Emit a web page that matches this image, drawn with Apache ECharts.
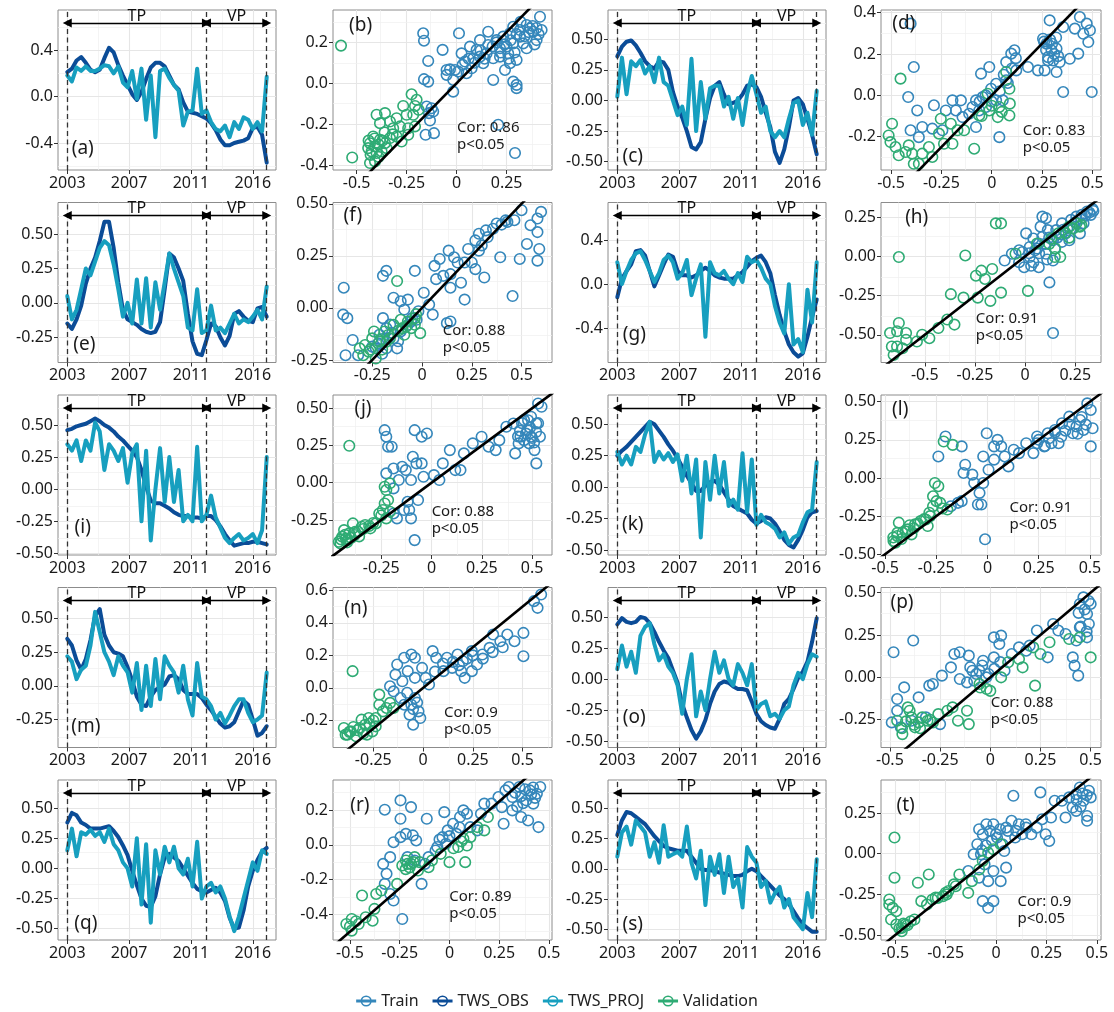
<!DOCTYPE html>
<html>
<head>
<meta charset="utf-8">
<script src="https://cdn.jsdelivr.net/npm/echarts@6/dist/echarts.min.js"></script>
<style>
html,body{margin:0;padding:0;background:#fff;}
#chart{width:1114px;height:1012px;}
</style>
</head>
<body>
<div id="chart"></div>
<script>
// ---------- time axis (month index) ----------
const monthIndex = [0,3,6,9,12,15,18,21,24,27,30,33,36,39,42,45,48,51,54,57,60,63,66,69,72,75,78,81,84,87,90,93,96,99,102,105,108,111,114,117,120,123,126,129];
const yearTickAt = [0,40,80,120];
const yearTickLabel = ['2003','2007','2011','2016'];
const periodBreaks = [0,90,129];   // start of TP, TP/VP split, end of VP

// ---------- TWS series ----------
const obsA = [0.21,0.24,0.31,0.34,0.29,0.23,0.21,0.23,0.33,0.42,0.38,0.27,0.18,0.10,0.02,-0.03,0.04,0.15,0.25,0.29,0.29,0.26,0.18,0.10,0.06,-0.05,-0.13,-0.14,-0.15,-0.17,-0.19,-0.23,-0.29,-0.37,-0.42,-0.42,-0.40,-0.39,-0.38,-0.36,-0.27,-0.26,-0.33,-0.57];
const projA = [0.18,0.13,0.25,0.22,0.26,0.22,0.22,0.24,0.27,0.26,0.20,0.26,0.12,0.08,0.22,-0.02,0.24,-0.20,0.18,-0.35,0.22,0.24,0.16,0.10,0.05,-0.25,-0.13,-0.12,0.24,-0.15,-0.12,-0.22,-0.28,-0.30,-0.25,-0.35,-0.22,-0.28,-0.18,-0.20,-0.28,-0.22,-0.30,0.17];
const obsC = [0.36,0.44,0.48,0.49,0.45,0.39,0.32,0.28,0.26,0.32,0.31,0.25,0.07,-0.05,-0.14,-0.25,-0.38,-0.40,-0.34,-0.15,0.02,0.12,0.15,0.05,-0.03,-0.02,0.00,0.05,0.12,0.13,0.11,0.03,-0.10,-0.22,-0.42,-0.51,-0.40,-0.22,0.00,0.02,-0.03,-0.15,-0.28,-0.44];
const projC = [0.03,0.35,0.05,0.32,0.28,0.33,0.22,0.28,0.15,0.35,0.15,0.12,0.00,-0.12,-0.05,-0.20,0.34,-0.25,0.15,-0.15,0.10,0.12,0.12,-0.05,0.03,-0.15,0.02,-0.20,0.05,0.20,0.05,-0.10,-0.05,-0.25,-0.30,-0.25,-0.30,-0.15,-0.02,0.00,-0.20,-0.10,-0.28,0.08];
const obsE = [-0.15,-0.19,-0.12,-0.02,0.14,0.25,0.33,0.45,0.59,0.59,0.40,0.15,-0.05,-0.12,-0.14,-0.16,-0.19,-0.21,-0.22,-0.21,-0.14,0.10,0.36,0.33,0.25,0.16,-0.08,-0.28,-0.37,-0.38,-0.27,-0.15,-0.17,-0.25,-0.31,-0.24,-0.08,-0.06,-0.10,-0.13,-0.14,-0.04,-0.03,-0.10];
const projE = [0.05,-0.12,-0.05,0.10,0.25,0.20,0.30,0.40,0.45,0.42,0.28,0.10,-0.10,0.00,-0.15,0.17,-0.15,0.18,-0.18,0.15,-0.05,0.15,0.36,0.25,0.15,0.05,-0.18,-0.20,0.10,-0.22,-0.20,-0.02,-0.20,-0.18,-0.22,-0.15,-0.08,-0.15,-0.12,-0.14,-0.10,-0.05,-0.12,0.12];
const obsG = [-0.12,0.05,0.12,0.18,0.30,0.31,0.26,0.12,-0.02,0.08,0.18,0.27,0.25,0.12,0.08,0.08,0.06,0.08,0.12,0.15,0.12,0.08,0.06,0.05,0.05,0.05,0.08,0.11,0.16,0.21,0.24,0.26,0.20,0.10,-0.10,-0.28,-0.43,-0.55,-0.62,-0.66,-0.63,-0.48,-0.30,-0.14];
const projG = [0.20,0.00,0.12,0.22,0.28,0.30,0.22,0.12,0.02,0.10,0.22,0.26,0.20,0.05,0.10,0.22,-0.10,0.05,0.18,-0.48,0.20,0.10,0.08,0.12,0.05,0.00,0.10,0.02,0.25,0.20,0.22,0.15,0.05,0.00,-0.20,-0.35,-0.45,0.00,-0.55,-0.50,-0.62,-0.05,-0.35,0.20];
const obsI = [0.46,0.47,0.49,0.50,0.51,0.53,0.55,0.53,0.50,0.48,0.45,0.41,0.38,0.34,0.30,0.25,0.15,0.02,-0.09,-0.11,-0.11,-0.13,-0.15,-0.18,-0.20,-0.21,-0.21,-0.22,-0.22,-0.23,-0.21,-0.21,-0.24,-0.29,-0.35,-0.40,-0.44,-0.43,-0.42,-0.42,-0.41,-0.41,-0.42,-0.43];
const projI = [0.35,0.30,0.38,0.22,0.38,0.30,0.52,0.45,0.15,0.35,0.30,0.22,0.32,0.05,0.28,0.35,-0.25,0.30,-0.40,0.00,0.32,-0.10,0.25,-0.10,0.15,-0.25,-0.20,-0.25,0.33,-0.25,-0.20,-0.05,-0.22,-0.30,-0.38,-0.42,-0.38,-0.35,-0.40,-0.38,-0.35,-0.42,-0.32,0.25];
const obsK = [0.25,0.29,0.32,0.36,0.40,0.44,0.48,0.52,0.50,0.45,0.40,0.34,0.29,0.23,0.16,0.09,0.03,-0.03,-0.03,0.01,0.04,0.05,0.02,-0.04,-0.10,-0.15,-0.17,-0.19,-0.21,-0.26,-0.29,-0.27,-0.24,-0.25,-0.29,-0.35,-0.42,-0.46,-0.48,-0.42,-0.34,-0.24,-0.20,-0.19];
const projK = [0.28,0.18,0.25,0.18,0.32,0.28,0.42,0.52,0.20,0.28,0.22,0.27,0.20,0.26,0.05,0.25,-0.05,0.22,-0.40,0.20,-0.10,0.25,-0.05,0.20,-0.15,-0.10,-0.18,0.27,-0.20,0.22,-0.30,-0.22,-0.28,-0.30,-0.33,-0.40,-0.36,-0.45,-0.40,-0.38,-0.28,-0.20,-0.18,0.20];
const obsM = [0.35,0.30,0.19,0.12,0.20,0.34,0.52,0.57,0.38,0.30,0.25,0.24,0.22,0.14,0.04,-0.08,-0.14,-0.15,-0.08,-0.03,-0.01,0.01,0.07,0.08,0.05,-0.03,-0.06,-0.06,-0.06,-0.09,-0.14,-0.18,-0.23,-0.28,-0.31,-0.30,-0.27,-0.19,-0.11,-0.14,-0.25,-0.37,-0.35,-0.30];
const projM = [0.22,0.18,0.05,0.12,0.15,0.30,0.55,0.40,0.25,0.18,0.08,0.22,0.15,0.10,-0.05,0.17,-0.18,0.15,-0.15,0.20,-0.10,0.22,0.15,0.10,-0.05,0.15,-0.10,-0.22,0.17,-0.08,-0.10,-0.15,-0.25,-0.20,-0.28,-0.22,-0.15,-0.10,-0.10,-0.20,-0.27,-0.25,-0.22,0.10];
const obsO = [0.44,0.49,0.46,0.45,0.46,0.50,0.49,0.45,0.38,0.30,0.23,0.17,0.07,-0.03,-0.20,-0.31,-0.41,-0.48,-0.42,-0.33,-0.20,-0.10,-0.04,-0.02,-0.03,-0.06,-0.08,-0.08,-0.09,-0.18,-0.28,-0.34,-0.37,-0.39,-0.40,-0.32,-0.20,-0.16,-0.08,0.01,0.06,0.14,0.30,0.49];
const projO = [0.08,0.27,0.10,0.22,0.05,0.35,0.42,0.45,0.28,0.15,0.20,0.10,0.05,-0.05,-0.28,0.00,0.20,-0.30,-0.10,-0.25,0.00,0.22,0.05,0.15,0.00,-0.05,0.12,0.05,-0.05,0.12,-0.25,-0.20,-0.18,-0.30,-0.28,-0.32,-0.25,-0.22,-0.05,0.05,0.00,0.12,0.20,0.18];
const obsQ = [0.38,0.46,0.44,0.38,0.36,0.33,0.33,0.33,0.34,0.35,0.31,0.26,0.19,0.11,-0.02,-0.14,-0.25,-0.31,-0.32,-0.23,-0.05,0.09,0.12,0.09,0.06,0.00,-0.06,-0.12,-0.17,-0.19,-0.20,-0.18,-0.16,-0.20,-0.27,-0.41,-0.50,-0.49,-0.35,-0.15,-0.02,0.07,0.14,0.17];
const projQ = [0.15,0.33,0.10,0.30,0.28,0.32,0.27,0.30,0.22,0.33,0.20,0.15,0.05,0.00,-0.15,0.25,-0.30,0.20,-0.45,0.15,-0.05,0.18,0.05,0.18,0.00,-0.05,0.08,-0.15,0.22,-0.25,-0.15,-0.12,-0.20,-0.15,-0.25,-0.40,-0.52,-0.40,-0.25,-0.10,0.05,-0.02,0.15,0.12];
const obsS = [0.28,0.40,0.47,0.46,0.43,0.40,0.37,0.32,0.27,0.23,0.19,0.17,0.16,0.15,0.15,0.15,0.10,0.05,0.00,-0.01,-0.01,-0.02,-0.03,-0.04,-0.05,-0.06,-0.06,-0.05,-0.02,0.00,-0.02,-0.06,-0.10,-0.14,-0.18,-0.22,-0.25,-0.29,-0.35,-0.41,-0.46,-0.49,-0.52,-0.52];
const projS = [0.10,0.30,0.35,0.20,0.40,0.35,0.30,0.10,0.22,0.05,0.36,0.10,0.12,0.14,0.10,0.35,0.05,-0.08,0.15,-0.30,0.10,-0.05,0.12,-0.20,0.10,-0.15,-0.08,-0.32,0.18,0.10,0.05,-0.15,-0.10,-0.28,-0.20,-0.15,-0.32,-0.25,-0.40,-0.45,-0.50,-0.20,-0.40,0.08];

// ---------- scatter points [x, y] ----------
const trainB = [[-0.167,0.244],[-0.163,0.208],[-0.142,0.109],[-0.163,0.02],[-0.142,0.008],[-0.15,-0.114],[-0.125,-0.122],[-0.138,-0.146],[-0.117,-0.138],[-0.133,-0.182],[-0.155,-0.252],[-0.113,-0.244],[-0.07,0.163],[-0.033,0.068],[-0.008,0.065],[-0.017,0.016],[-0.017,-0.041],[0.012,0.244],[0.025,0.146],[0.042,0.106],[0.067,0.179],[0.1,0.163],[0.117,0.13],[0.075,0.073],[0.158,0.252],[0.158,0.187],[0.183,0.122],[0.217,0.171],[0.233,0.228],[0.267,0.244],[0.283,0.195],[0.283,0.276],[0.317,0.26],[0.35,0.285],[0.383,0.252],[0.417,0.325],[0.425,0.26],[0.4,0.211],[0.35,0.171],[0.3,0.114],[0.242,0.065],[0.183,0.016],[0.267,0.098],[0.283,0.008],[0.3,-0.024],[0.292,-0.341],[0.208,-0.203],[0.3,-0.008],[0.117,0.211],[0.15,0.146],[0.2,0.211],[0.25,0.179],[0.317,0.228],[0.367,0.268],[0.333,0.195],[0.05,0.049],[0.008,0.057],[-0.05,0.065],[-0.05,0.041],[0.083,0.122],[0.133,0.098],[0.217,0.13],[0.258,0.146],[0.2,0.2],[0.22,0.15],[0.27,0.21],[0.3,0.24],[0.32,0.3],[0.34,0.23],[0.36,0.25],[0.38,0.28],[0.4,0.27],[0.41,0.24],[0.39,0.19],[0.12,0.16],[0.14,0.12],[0.18,0.18],[0.24,0.19],[0.26,0.12],[0.29,0.15],[0.03,0.09],[0.06,0.12],[0.09,0.1]];
const validB = [[-0.578,0.184],[-0.522,-0.363],[-0.225,-0.054],[-0.2,-0.081],[-0.4,-0.154],[-0.358,-0.146],[-0.3,-0.171],[-0.267,-0.111],[-0.25,-0.154],[-0.217,-0.154],[-0.208,-0.111],[-0.19,-0.13],[-0.383,-0.195],[-0.333,-0.187],[-0.283,-0.211],[-0.242,-0.22],[-0.208,-0.211],[-0.417,-0.26],[-0.433,-0.293],[-0.408,-0.309],[-0.383,-0.276],[-0.358,-0.293],[-0.333,-0.268],[-0.3,-0.26],[-0.275,-0.285],[-0.4,-0.341],[-0.375,-0.333],[-0.35,-0.317],[-0.433,-0.39],[-0.408,-0.382],[-0.317,-0.22],[-0.242,-0.252],[-0.425,-0.333],[-0.442,-0.317],[-0.43,-0.35],[-0.39,-0.3],[-0.37,-0.28],[-0.41,-0.27],[-0.36,-0.24],[-0.32,-0.25],[-0.39,-0.36],[-0.44,-0.28]];
const trainD = [[-0.403,0.347],[-0.387,0.137],[-0.415,-0.008],[-0.37,-0.073],[-0.403,-0.169],[-0.345,-0.153],[-0.362,-0.202],[-0.287,-0.048],[-0.295,-0.161],[-0.245,-0.169],[-0.228,-0.073],[-0.195,-0.024],[-0.178,-0.073],[-0.153,-0.024],[-0.145,-0.105],[-0.112,-0.089],[-0.078,-0.024],[-0.078,-0.153],[-0.053,0.105],[-0.045,-0.008],[-0.028,-0.056],[-0.012,0.137],[-0.003,0.032],[0.022,0.056],[0.038,-0.202],[0.055,-0.024],[0.072,0.161],[0.097,0.202],[0.113,0.218],[0.122,0.121],[0.18,0.137],[0.23,0.121],[0.263,0.121],[0.255,0.274],[0.272,0.25],[0.288,0.363],[0.297,0.218],[0.305,0.169],[0.322,0.226],[0.338,0.161],[0.355,0.016],[0.355,0.331],[0.388,0.177],[0.413,0.323],[0.43,0.202],[0.438,0.379],[0.472,0.347],[0.488,0.315],[0.497,0.016],[0.48,0.258],[0.455,0.298],[0.28,0.185],[0.322,0.113],[-0.062,-0.073],[0.022,-0.024],[-0.095,-0.056],[0.072,0.073],[0.27,0.22],[0.29,0.27],[0.31,0.2],[0.3,0.25],[0.33,0.19],[0.28,0.17],[0.26,0.26],[0.32,0.28],[-0.03,0.0],[0.0,-0.03],[0.04,0.02],[0.08,0.06],[-0.06,-0.03],[0.1,0.13],[0.12,0.18],[0.06,0.1]];
const validD = [[-0.453,0.081],[-0.495,-0.137],[-0.512,-0.194],[-0.503,-0.226],[-0.478,-0.25],[-0.462,-0.29],[-0.412,-0.242],[-0.395,-0.282],[-0.387,-0.331],[-0.362,-0.331],[-0.345,-0.282],[-0.312,-0.25],[-0.295,-0.298],[-0.262,-0.185],[-0.253,-0.113],[-0.237,-0.234],[-0.203,-0.137],[-0.195,-0.234],[-0.17,-0.169],[-0.137,-0.169],[-0.087,-0.258],[-0.062,-0.097],[-0.012,-0.073],[0.03,-0.105],[0.038,-0.056],[0.088,-0.097],[0.088,0.032],[0.072,0.113],[-0.02,0.008],[-0.428,-0.274],[0.0,-0.05],[0.05,-0.08],[-0.05,-0.1],[0.09,-0.04]];
const trainF = [[-0.393,0.097],[-0.396,-0.032],[-0.375,-0.049],[-0.384,-0.227],[-0.348,-0.154],[-0.196,0.154],[-0.179,0.178],[-0.036,0.178],[-0.143,0.049],[-0.107,0.032],[-0.071,0.04],[0.009,0.073],[0.036,0.016],[-0.196,-0.049],[-0.179,-0.097],[-0.214,-0.129],[-0.232,-0.194],[-0.179,-0.194],[-0.143,-0.146],[-0.107,-0.113],[-0.071,-0.081],[-0.027,-0.057],[-0.089,-0.008],[0.125,-0.073],[0.143,-0.065],[0.054,-0.032],[0.063,0.202],[0.071,0.138],[0.089,0.235],[0.134,0.275],[0.143,0.097],[0.161,0.243],[0.179,0.218],[0.143,0.162],[0.214,0.04],[0.214,0.218],[0.232,0.283],[0.25,0.218],[0.268,0.186],[0.268,0.324],[0.286,0.275],[0.313,0.146],[0.286,0.356],[0.321,0.372],[0.375,0.405],[0.393,0.243],[0.429,0.413],[0.464,0.421],[0.455,0.057],[0.491,0.235],[0.5,0.469],[0.527,0.307],[0.545,0.397],[0.58,0.429],[0.598,0.461],[0.58,0.364],[0.589,0.283],[0.58,0.227],[0.357,0.38],[0.107,0.154],[0.196,0.121],[-0.054,-0.065],[-0.125,-0.194],[-0.25,-0.186],[-0.321,-0.227],[-0.018,-0.016],[-0.2,-0.15],[-0.15,-0.12],[-0.12,-0.16],[-0.22,-0.17],[-0.1,-0.1],[-0.05,-0.05],[-0.16,-0.08],[-0.2,-0.22],[0.3,0.3],[0.33,0.34],[0.4,0.4],[0.42,0.42]];
const validF = [[-0.125,0.129],[-0.313,-0.194],[-0.295,-0.227],[-0.286,-0.178],[-0.268,-0.21],[-0.25,-0.146],[-0.214,-0.162],[-0.188,-0.113],[-0.161,-0.146],[-0.143,-0.081],[-0.107,-0.057],[-0.071,-0.065],[-0.054,-0.097],[-0.036,-0.049],[-0.009,-0.121],[-0.089,-0.129],[-0.179,-0.162],[-0.232,-0.243],[-0.241,-0.113],[-0.098,-0.097],[-0.036,-0.081],[-0.2,-0.2],[-0.17,-0.13],[-0.12,-0.11],[-0.08,-0.09],[-0.03,-0.03],[-0.26,-0.2]];
const trainH = [[0.139,-0.489],[0.121,-0.166],[-0.03,-0.037],[-0.005,-0.069],[0.041,-0.037],[0.068,-0.069],[0.023,-0.004],[-0.013,0.028],[-0.102,-0.026],[0.005,0.147],[0.041,0.114],[0.068,0.082],[0.077,0.19],[0.086,0.254],[0.104,0.244],[0.113,0.168],[0.139,0.103],[0.155,0.168],[0.184,0.211],[0.202,0.147],[0.229,0.233],[0.255,0.254],[0.282,0.265],[0.309,0.287],[0.336,0.302],[0.273,0.147],[0.22,0.103],[0.148,0.05],[0.104,0.017],[0.05,0.039],[-0.03,0.039],[-0.066,0.017],[0.023,0.06],[0.139,-0.026],[0.184,0.093],[0.238,0.179],[0.291,0.211],[0.327,0.265],[0.086,0.125],[0.02,0.02],[0.06,0.05],[0.1,0.08],[0.12,0.12],[0.16,0.12],[0.19,0.17],[0.21,0.18],[0.25,0.22],[0.28,0.24],[0.3,0.26],[0.32,0.28],[0.34,0.29],[0.18,0.14],[0.07,0.02],[0.03,-0.06],[0.11,-0.02]];
const validH = [[-0.629,-0.004],[-0.673,-0.489],[-0.638,-0.478],[-0.593,-0.489],[-0.629,-0.425],[-0.664,-0.575],[-0.638,-0.575],[-0.655,-0.629],[-0.611,-0.586],[-0.593,-0.532],[-0.539,-0.543],[-0.513,-0.5],[-0.477,-0.522],[-0.432,-0.457],[-0.388,-0.403],[-0.352,-0.435],[-0.37,-0.241],[-0.307,-0.263],[-0.298,0.006],[-0.245,-0.123],[-0.218,-0.091],[-0.2,-0.144],[-0.164,-0.08],[-0.236,-0.263],[-0.173,-0.284],[-0.12,-0.231],[-0.146,0.211],[-0.12,0.211],[-0.048,0.017],[0.014,-0.22],[0.13,0.114],[0.148,-0.004],[0.175,-0.004],[0.22,0.19],[0.255,0.211],[0.273,0.19],[0.166,0.147],[0.059,0.082],[0.2,0.15],[0.24,0.18],[0.28,0.2],[0.15,0.05],[0.22,0.12],[0.12,0.08]];
const trainJ = [[-0.233,0.353],[-0.225,0.309],[-0.216,0.242],[-0.198,0.242],[-0.225,0.063],[-0.189,0.096],[-0.163,0.018],[-0.189,-0.038],[-0.189,-0.206],[-0.146,0.107],[-0.128,0.085],[-0.102,0.018],[-0.093,0.174],[-0.075,0.13],[-0.084,0.353],[-0.049,0.309],[-0.023,0.331],[-0.049,0.13],[-0.04,0.04],[-0.119,-0.128],[-0.111,-0.183],[-0.102,-0.239],[-0.084,-0.385],[-0.067,-0.116],[-0.137,-0.183],[-0.172,-0.239],[0.012,0.051],[0.056,0.13],[0.091,0.219],[0.118,0.085],[0.144,0.085],[0.161,0.197],[0.205,0.264],[0.249,0.309],[0.284,0.242],[0.319,0.219],[0.337,0.286],[0.372,0.376],[0.407,0.398],[0.416,0.197],[0.442,0.309],[0.46,0.421],[0.477,0.353],[0.486,0.264],[0.495,0.443],[0.512,0.219],[0.521,0.398],[0.521,0.13],[0.53,0.532],[0.547,0.51],[0.539,0.309],[0.46,0.286],[0.495,0.309],[0.433,0.264],[0.039,0.018],[0.44,0.35],[0.47,0.33],[0.49,0.37],[0.5,0.3],[0.52,0.34],[0.45,0.4],[0.48,0.42],[0.53,0.4],[0.51,0.27],[0.43,0.31]];
const validJ = [[-0.409,0.248],[-0.461,-0.396],[-0.444,-0.362],[-0.435,-0.318],[-0.426,-0.374],[-0.409,-0.34],[-0.391,-0.273],[-0.382,-0.351],[-0.365,-0.329],[-0.347,-0.295],[-0.33,-0.284],[-0.304,-0.306],[-0.277,-0.273],[-0.26,-0.206],[-0.242,-0.183],[-0.233,-0.139],[-0.225,-0.049],[-0.216,-0.116],[-0.233,-0.027],[-0.207,-0.004],[-0.207,-0.195],[-0.453,-0.407],[-0.418,-0.385],[-0.225,-0.239],[-0.45,-0.38],[-0.43,-0.35],[-0.4,-0.37],[-0.38,-0.33],[-0.36,-0.36],[-0.42,-0.4],[-0.34,-0.31],[-0.31,-0.29],[-0.29,-0.27],[-0.25,-0.22]];
const trainL = [[-0.24,0.141],[-0.205,0.272],[-0.126,0.207],[-0.109,0.087],[-0.117,0.033],[-0.074,0.022],[-0.065,-0.033],[-0.039,-0.098],[-0.03,-0.174],[-0.047,-0.174],[-0.012,-0.402],[-0.004,0.293],[-0.021,0.141],[0.005,0.054],[0.032,0.207],[0.049,0.25],[0.067,0.207],[0.084,0.141],[0.102,0.076],[0.128,0.185],[0.154,0.163],[0.189,0.228],[0.224,0.163],[0.242,0.272],[0.277,0.207],[0.294,0.293],[0.329,0.315],[0.347,0.228],[0.364,0.359],[0.399,0.402],[0.417,0.293],[0.434,0.337],[0.452,0.38],[0.469,0.315],[0.487,0.489],[0.504,0.207],[0.513,0.326],[0.504,0.446],[-0.144,-0.163],[-0.126,-0.152],[-0.179,-0.185],[0.032,0.12],[0.242,0.228],[0.312,0.228],[-0.021,-0.033],[0.25,0.25],[0.3,0.26],[0.33,0.3],[0.38,0.31],[0.4,0.35],[0.44,0.29],[0.46,0.4],[0.48,0.35],[0.36,0.27],[0.28,0.21]];
const validL = [[-0.433,-0.293],[-0.459,-0.413],[-0.441,-0.38],[-0.415,-0.359],[-0.389,-0.337],[-0.371,-0.37],[-0.354,-0.304],[-0.327,-0.283],[-0.301,-0.272],[-0.284,-0.228],[-0.266,-0.185],[-0.249,-0.152],[-0.257,-0.033],[-0.24,-0.054],[-0.231,-0.163],[-0.214,0.239],[-0.17,0.217],[-0.266,-0.12],[-0.292,-0.315],[-0.45,-0.424],[-0.196,-0.207],[-0.46,-0.39],[-0.44,-0.36],[-0.42,-0.4],[-0.4,-0.35],[-0.38,-0.31],[-0.36,-0.33],[-0.34,-0.3],[-0.31,-0.27],[-0.28,-0.25],[-0.22,-0.2]];
const trainN = [[-0.166,0.01],[-0.148,-0.021],[-0.139,0.082],[-0.13,0.144],[-0.095,0.185],[-0.059,0.205],[-0.041,0.185],[-0.104,0.041],[-0.077,0.103],[-0.041,0.062],[-0.113,-0.062],[-0.059,-0.103],[-0.041,-0.062],[-0.023,-0.144],[-0.068,-0.164],[-0.05,-0.226],[-0.005,0.123],[0.013,0.062],[0.048,0.226],[0.066,0.185],[0.102,0.103],[0.12,0.185],[0.146,0.123],[0.173,0.205],[0.2,0.164],[0.209,0.062],[0.245,0.226],[0.271,0.144],[0.298,0.205],[0.334,0.246],[0.352,0.328],[0.388,0.287],[0.423,0.328],[0.459,0.287],[0.504,0.195],[0.504,0.338],[0.557,0.533],[0.575,0.492],[0.593,0.574],[0.245,0.103],[0.191,0.103],[0.03,0.021],[-0.095,-0.103],[-0.014,-0.185],[0.1,0.15],[0.15,0.16],[0.18,0.14],[0.22,0.18],[0.25,0.2],[0.3,0.18],[0.35,0.22],[0.4,0.25],[0.06,0.1],[-0.08,-0.03],[-0.05,-0.13],[-0.03,-0.09]];
const validN = [[-0.354,0.103],[-0.398,-0.246],[-0.38,-0.287],[-0.363,-0.267],[-0.336,-0.297],[-0.318,-0.246],[-0.309,-0.195],[-0.291,-0.226],[-0.273,-0.185],[-0.255,-0.267],[-0.238,-0.185],[-0.22,-0.103],[-0.202,-0.144],[-0.184,-0.123],[-0.166,-0.092],[-0.148,-0.123],[-0.22,-0.041],[-0.389,-0.287],[-0.238,-0.236],[-0.282,-0.287],[-0.37,-0.27],[-0.33,-0.26],[-0.3,-0.28],[-0.27,-0.22],[-0.25,-0.2],[-0.35,-0.24]];
const trainP = [[-0.482,0.148],[-0.384,0.217],[-0.429,-0.059],[-0.464,-0.128],[-0.464,-0.197],[-0.491,-0.266],[-0.446,-0.295],[-0.357,-0.118],[-0.304,-0.049],[-0.241,0.01],[-0.196,0.059],[-0.152,0.148],[-0.107,0.128],[-0.089,0.039],[-0.152,-0.01],[-0.08,-0.02],[-0.054,0.039],[-0.036,0.098],[-0.009,0.02],[0.018,0.236],[0.045,0.197],[0.054,0.246],[0.071,0.039],[0.107,0.138],[0.143,0.177],[0.179,0.157],[0.196,0.187],[0.232,0.276],[0.286,0.118],[0.313,0.315],[0.339,0.276],[0.375,0.256],[0.411,0.118],[0.42,0.069],[0.438,0.01],[0.446,0.433],[0.464,0.472],[0.482,0.374],[0.5,0.433],[0.491,0.315],[0.446,0.295],[0.429,0.217],[0.482,0.236],[-0.116,-0.03],[-0.179,0.138],[-0.286,-0.039],[-0.321,-0.236],[-0.25,-0.276],[-0.393,-0.256],[0.018,0.118],[-0.07,0.02],[-0.04,0.07],[-0.02,0.0],[0.02,0.05],[0.05,0.09],[-0.1,0.06],[0.44,0.38],[0.47,0.4],[0.49,0.45],[0.45,0.3],[0.48,0.27]];
const validP = [[-0.464,-0.256],[-0.438,-0.335],[-0.411,-0.177],[-0.393,-0.236],[-0.375,-0.295],[-0.357,-0.266],[-0.339,-0.236],[-0.313,-0.256],[-0.286,-0.266],[-0.259,-0.217],[-0.214,-0.197],[-0.188,-0.177],[-0.161,-0.256],[-0.116,-0.197],[-0.107,-0.276],[-0.402,-0.197],[-0.054,-0.039],[-0.018,-0.069],[0.054,0.0],[0.089,0.089],[0.143,0.108],[0.161,0.059],[0.223,-0.049],[0.25,0.138],[0.295,0.207],[0.393,0.226],[0.446,0.236],[0.5,0.118],[0.214,0.177],[-0.44,-0.3],[-0.42,-0.26],[-0.38,-0.28],[-0.35,-0.3],[-0.3,-0.25],[-0.05,-0.06],[0.0,-0.08]];
const trainR = [[-0.246,0.256],[-0.193,0.217],[-0.325,0.202],[-0.246,0.15],[-0.114,0.15],[-0.026,0.188],[-0.281,0.015],[-0.246,0.044],[-0.219,0.063],[-0.184,0.054],[-0.167,0.025],[-0.298,-0.071],[-0.333,-0.11],[-0.316,-0.167],[-0.325,-0.225],[-0.298,-0.283],[-0.281,-0.321],[-0.237,-0.427],[-0.211,-0.071],[-0.175,-0.09],[-0.105,-0.071],[-0.07,-0.033],[-0.035,0.044],[-0.009,0.083],[0.018,0.121],[0.035,0.063],[0.053,0.16],[0.07,0.198],[0.088,0.179],[0.105,0.102],[0.14,0.083],[0.175,0.237],[0.211,0.237],[0.246,0.275],[0.263,0.217],[0.281,0.313],[0.298,0.333],[0.316,0.275],[0.316,0.198],[0.351,0.333],[0.36,0.16],[0.386,0.256],[0.395,0.14],[0.404,0.313],[0.421,0.237],[0.439,0.294],[0.447,0.102],[0.456,0.333],[0.272,0.121],[-0.018,0.006],[-0.061,-0.013],[-0.123,-0.11],[-0.14,-0.225],[0.158,0.179],[0.33,0.3],[0.36,0.28],[0.38,0.32],[0.41,0.29],[0.43,0.27],[0.37,0.24],[0.34,0.22],[0.42,0.33],[0.0,0.05],[0.05,0.1],[-0.05,0.03]];
const validR = [[-0.439,-0.292],[-0.491,-0.427],[-0.518,-0.456],[-0.491,-0.494],[-0.456,-0.456],[-0.421,-0.417],[-0.386,-0.437],[-0.377,-0.369],[-0.368,-0.283],[-0.342,-0.263],[-0.263,-0.225],[-0.237,-0.119],[-0.219,-0.09],[-0.193,-0.11],[-0.175,-0.071],[-0.158,-0.148],[-0.105,-0.129],[-0.088,-0.09],[-0.044,-0.052],[0.0,-0.1],[0.044,-0.013],[0.07,0.035],[0.088,-0.004],[0.105,0.044],[0.14,0.102],[0.175,0.083],[0.193,0.16],[0.079,-0.1],[-0.211,-0.11],[-0.2,-0.13],[-0.18,-0.1],[-0.22,-0.14],[-0.15,-0.1],[0.02,-0.02],[0.06,0.02],[-0.5,-0.47],[-0.47,-0.44]];
const trainT = [[0.086,0.356],[0.22,0.377],[-0.084,0.15],[-0.066,0.119],[-0.048,0.181],[-0.03,0.14],[-0.093,0.058],[-0.075,-0.004],[-0.057,-0.066],[-0.084,-0.148],[-0.039,-0.169],[-0.013,-0.292],[-0.039,-0.333],[-0.066,-0.292],[0.023,-0.169],[-0.013,-0.107],[-0.013,0.181],[0.005,0.099],[0.032,0.058],[0.059,0.14],[0.077,0.202],[0.095,0.099],[0.113,0.181],[0.13,0.119],[0.148,0.181],[0.175,0.119],[0.202,0.16],[0.229,0.212],[0.246,0.119],[0.264,0.078],[0.273,0.222],[0.291,0.325],[0.327,0.325],[0.345,0.222],[0.363,0.346],[0.38,0.284],[0.398,0.366],[0.416,0.407],[0.434,0.325],[0.452,0.232],[0.452,0.202],[0.461,0.387],[0.47,0.346],[0.398,0.263],[0.05,-0.086],[-0.111,-0.004],[-0.138,-0.107],[0.041,0.016],[-0.05,0.05],[-0.02,0.08],[0.0,0.12],[-0.07,0.02],[0.02,0.15],[0.05,0.16],[0.1,0.14],[0.15,0.16],[0.4,0.33],[0.43,0.37],[0.45,0.36],[0.42,0.29]];
const validT = [[-0.504,0.099],[-0.504,-0.148],[-0.53,-0.282],[-0.53,-0.313],[-0.513,-0.333],[-0.495,-0.354],[-0.521,-0.405],[-0.495,-0.436],[-0.468,-0.457],[-0.45,-0.436],[-0.423,-0.416],[-0.405,-0.405],[-0.388,-0.179],[-0.371,-0.292],[-0.343,-0.313],[-0.334,-0.128],[-0.316,-0.282],[-0.289,-0.272],[-0.263,-0.261],[-0.236,-0.23],[-0.209,-0.189],[-0.182,-0.128],[-0.138,-0.241],[-0.12,-0.169],[-0.084,-0.097],[-0.066,-0.045],[-0.039,0.006],[-0.013,0.027],[0.023,0.058],[-0.245,-0.251],[-0.468,-0.477],[-0.48,-0.46],[-0.46,-0.43],[-0.44,-0.44],[-0.3,-0.27],[-0.25,-0.24],[-0.2,-0.2]];

// 1:1 reference line
const identityLine = [[-1,-1],[1,1]];

// correlation annotations
const corValues = {b:'0.86', d:'0.83', f:'0.88', h:'0.91', j:'0.88', l:'0.91', n:'0.9', p:'0.88', r:'0.89', t:'0.9'};

// tick labels
const ticks1 = ['0.4','0.0','-0.4'];
const ticks2 = ['0.50','0.25','0.00','-0.25','-0.50'];
const ticks2s = ['0.50','0.25','0.00','-0.25'];
const ticks2b = ['0.25','0.00','-0.25','-0.50'];
const ticksB = ['0.2','0.0','-0.2','-0.4'];
const ticksD = ['0.4','0.2','0.0','-0.2'];
const ticksN = ['0.6','0.4','0.2','0.0','-0.2'];
const xTicks4a = ['-0.5','-0.25','0','0.25'];
const xTicks4b = ['-0.25','0','0.25','0.5'];
const xTicks5 = ['-0.5','-0.25','0','0.25','0.5'];

// ---------- layout ----------
const GRID_LEFT = [58, 333, 608, 881];
const GRID_W = [218, 219, 218, 220];
const GRID_TOP = [10, 202.5, 395, 587.5, 780];
const GRID_H = 160;
const TS_X_RANGE = [-6, 135];

const COLORS = {Train:'#3587bb', TWS_OBS:'#0b4c97', TWS_PROJ:'#179fbf', Validation:'#2eab74'};
const FONT = 'Noto Sans';
const INK = '#1a1a1a';

const panels = [
  {kind:'ts', row:0, col:0, tag:'(a)', obs:obsA, proj:projA, y:[-0.633,0.745], yTicks:ticks1, tagAt:[10,-0.45]},
  {kind:'sc', row:0, col:1, tag:'(b)', train:trainB, valid:validB, x:[-0.618,0.477], y:[-0.424,0.358], xTicks:xTicks4a, yTicks:ticksB, tagAt:[-0.48,0.284], cor:corValues.b, corAt:[0.0,-0.257]},
  {kind:'ts', row:0, col:2, tag:'(c)', obs:obsC, proj:projC, y:[-0.568,0.739], yTicks:ticks2, tagAt:[10,-0.46]},
  {kind:'sc', row:0, col:3, tag:'(d)', train:trainD, valid:validD, x:[-0.55,0.543], y:[-0.361,0.413], xTicks:xTicks5, yTicks:ticksD, tagAt:[-0.437,0.348], cor:corValues.d, corAt:[0.152,-0.21]},
  {kind:'ts', row:1, col:0, tag:'(e)', obs:obsE, proj:projE, y:[-0.434,0.731], yTicks:ticks2s, tagAt:[11,-0.30]},
  {kind:'sc', row:1, col:1, tag:'(f)', train:trainF, valid:validF, x:[-0.447,0.653], y:[-0.262,0.506], xTicks:xTicks4b, yTicks:ticks2s, tagAt:[-0.347,0.445], cor:corValues.f, corAt:[0.102,-0.151]},
  {kind:'ts', row:1, col:2, tag:'(g)', obs:obsG, proj:projG, y:[-0.714,0.744], yTicks:ticks1, tagAt:[11,-0.46]},
  {kind:'sc', row:1, col:3, tag:'(h)', train:trainH, valid:validH, x:[-0.718,0.378], y:[-0.677,0.344], xTicks:xTicks4a, yTicks:ticks2b, tagAt:[-0.54,0.246], cor:corValues.h, corAt:[-0.248,-0.455]},
  {kind:'ts', row:2, col:0, tag:'(i)', obs:obsI, proj:projI, y:[-0.513,0.734], yTicks:ticks2, tagAt:[10,-0.30]},
  {kind:'sc', row:2, col:1, tag:'(j)', train:trainJ, valid:validJ, x:[-0.49,0.599], y:[-0.485,0.589], xTicks:xTicks4b, yTicks:ticks2s, tagAt:[-0.341,0.50], cor:corValues.j, corAt:[-0.002,-0.254]},
  {kind:'ts', row:2, col:2, tag:'(k)', obs:obsK, proj:projK, y:[-0.54,0.733], yTicks:ticks2, tagAt:[10,-0.30]},
  {kind:'sc', row:2, col:3, tag:'(l)', train:trainL, valid:validL, x:[-0.52,0.554], y:[-0.505,0.544], xTicks:xTicks5, yTicks:ticks2, tagAt:[-0.426,0.447], cor:corValues.l, corAt:[0.105,-0.25]},
  {kind:'ts', row:3, col:0, tag:'(m)', obs:obsM, proj:projM, y:[-0.458,0.731], yTicks:ticks2s, tagAt:[12,-0.30]},
  {kind:'sc', row:3, col:1, tag:'(n)', train:trainN, valid:validN, x:[-0.4525,0.6475], y:[-0.366,0.617], xTicks:xTicks4b, yTicks:ticksN, tagAt:[-0.3375,0.49], cor:corValues.n, corAt:[0.102,-0.203]},
  {kind:'ts', row:3, col:2, tag:'(o)', obs:obsO, proj:projO, y:[-0.551,0.737], yTicks:ticks2, tagAt:[11,-0.31]},
  {kind:'sc', row:3, col:3, tag:'(p)', train:trainP, valid:validP, x:[-0.5445,0.5515], y:[-0.414,0.53], xTicks:xTicks5, yTicks:ticks2s, tagAt:[-0.44,0.443], cor:corValues.p, corAt:[0.0,-0.20]},
  {kind:'ts', row:4, col:0, tag:'(q)', obs:obsQ, proj:projQ, y:[-0.594,0.733], yTicks:ticks2, tagAt:[12,-0.46]},
  {kind:'sc', row:4, col:1, tag:'(r)', train:trainR, valid:validR, x:[-0.585,0.515], y:[-0.548,0.373], xTicks:xTicks5, yTicks:ticksB, tagAt:[-0.45,0.227], cor:corValues.r, corAt:[-0.004,-0.348]},
  {kind:'ts', row:4, col:2, tag:'(s)', obs:obsS, proj:projS, y:[-0.589,0.735], yTicks:ticks2, tagAt:[10,-0.46]},
  {kind:'sc', row:4, col:3, tag:'(t)', train:trainT, valid:validT, x:[-0.571,0.521], y:[-0.531,0.453], xTicks:xTicks5, yTicks:ticks2b, tagAt:[-0.449,0.294], cor:corValues.t, corAt:[0.104,-0.35]}
];

// ---------- helpers ----------
function tickSet(labels){ return {vals: labels.map(Number), labels: labels}; }
function labelOf(set, v){
  const k = set.vals.findIndex(t => Math.abs(t - v) < 1e-9);
  return k < 0 ? '' : set.labels[k];
}
function minorsOf(vals, lo, hi){
  const s = vals.slice().sort((a,b)=>a-b);
  const step = s[1] - s[0];
  const out = s.map(v => v - step/2);
  out.push(s[s.length-1] + step/2);
  return out.filter(v => v > lo && v < hi);
}
function axisCfg(i, range, set){
  return {
    gridIndex:i, type:'value', min:range[0], max:range[1], scale:true,
    axisLine:{show:false, onZero:false},
    axisTick:{show:true, customValues:set.vals, length:4, lineStyle:{color:'#333', width:1}},
    axisLabel:{show:true, customValues:set.vals, formatter:(v)=>labelOf(set, v), margin:5,
               fontSize:16, color:INK, fontFamily:FONT},
    splitLine:{show:false}, minorTick:{show:false}, minorSplitLine:{show:false}
  };
}
// invisible anchor point carrying a text label
function textAt(i, at, text, labelOpt){
  return {type:'scatter', xAxisIndex:i, yAxisIndex:i, z:6, silent:true,
    data:[at], symbolSize:1, itemStyle:{color:'rgba(0,0,0,0)', opacity:1},
    label:Object.assign({show:true, color:INK, fontFamily:FONT, opacity:1, formatter:text}, labelOpt)};
}

const grids = [], xAxes = [], yAxes = [], series = [];

panels.forEach((p, i) => {
  grids.push({left:GRID_LEFT[p.col], top:GRID_TOP[p.row], width:GRID_W[p.col], height:GRID_H,
              show:true, borderColor:'#8c8c8c', borderWidth:1, backgroundColor:'#fff',
              containLabel:false, outerBoundsMode:'none'});
  const xr = p.kind === 'ts' ? TS_X_RANGE : p.x;
  const xs = p.kind === 'ts' ? {vals:yearTickAt, labels:yearTickLabel} : tickSet(p.xTicks);
  const ys = tickSet(p.yTicks);
  xAxes.push(axisCfg(i, xr, xs));
  yAxes.push(axisCfg(i, p.y, ys));

  // panel grid lines (kept beneath every mark)
  const major = {color:'#e6e6e6', width:1.1, type:'solid'};
  const minor = {color:'#efefef', width:0.7, type:'solid'};
  const gl = []
    .concat(xs.vals.filter(v=>v>xr[0]&&v<xr[1]).map(v=>({xAxis:v, lineStyle:major})))
    .concat(minorsOf(xs.vals, xr[0], xr[1]).map(v=>({xAxis:v, lineStyle:minor})))
    .concat(ys.vals.filter(v=>v>p.y[0]&&v<p.y[1]).map(v=>({yAxis:v, lineStyle:major})))
    .concat(minorsOf(ys.vals, p.y[0], p.y[1]).map(v=>({yAxis:v, lineStyle:minor})));
  series.push({type:'line', xAxisIndex:i, yAxisIndex:i, data:[], silent:true, z:0,
    markLine:{z:0, silent:true, symbol:['none','none'], label:{show:false}, animation:false,
              emphasis:{disabled:true}, data:gl}});

  if (p.kind === 'ts') {
    const lineSeries = (name, vals, z) => ({
      type:'line', name:name, xAxisIndex:i, yAxisIndex:i, z:z,
      data: monthIndex.map((m, k) => [m, vals[k]]),
      symbol:'none', showSymbol:false, silent:true,
      lineStyle:{color:COLORS[name], width:4, join:'round', cap:'round', opacity:1},
      itemStyle:{color:COLORS[name]}
    });
    series.push(lineSeries('TWS_OBS', p.obs, 2));
    series.push(lineSeries('TWS_PROJ', p.proj, 3));

    // period boundaries
    series.push({type:'line', xAxisIndex:i, yAxisIndex:i, data:[], silent:true, z:4,
      markLine:{z:4, silent:true, symbol:['none','none'], label:{show:false}, animation:false,
        emphasis:{disabled:true},
        lineStyle:{type:[5,3.5], color:'#333', width:1.3},
        data: periodBreaks.map(v => ({xAxis:v}))}});

    // TP / VP arrows
    const yA = p.y[1] - (p.y[1] - p.y[0]) * 13 / GRID_H;
    series.push({type:'line', xAxisIndex:i, yAxisIndex:i, data:[], silent:true, z:5,
      markLine:{z:5, silent:true, symbol:['triangle','triangle'], symbolSize:9, animation:false,
        emphasis:{disabled:true},
        lineStyle:{type:'solid', color:'#000', width:1.4},
        label:{show:true, position:'insideMiddleTop', distance:-1, fontSize:16, color:'#111', fontFamily:FONT},
        data:[
          [{coord:[periodBreaks[0], yA], label:{formatter:'TP'}}, {coord:[periodBreaks[1], yA]}],
          [{coord:[periodBreaks[1], yA], label:{formatter:'VP'}}, {coord:[periodBreaks[2], yA]}]
        ]}});
  } else {
    const pts = (name, data, z) => ({
      type:'scatter', name:name, xAxisIndex:i, yAxisIndex:i, z:z, data:data,
      symbol:'circle', symbolSize:10.5, silent:true,
      itemStyle:{color:'rgba(0,0,0,0)', borderColor:COLORS[name], borderWidth:1.6, opacity:1}
    });
    series.push(pts('Train', p.train, 2));
    series.push(pts('Validation', p.valid, 3));
    series.push({type:'line', xAxisIndex:i, yAxisIndex:i, z:4, data:identityLine,
      symbol:'none', silent:true, clip:true, lineStyle:{color:'#000', width:2.6}});
    series.push(textAt(i, p.corAt, 'Cor: ' + p.cor + '\np<0.05',
      {position:'right', distance:0, align:'left', lineHeight:17, fontSize:15}));
  }

  // panel tag
  series.push(textAt(i, p.tagAt, p.tag, {position:'inside', fontSize:19}));
});

// legend key: ring with a bar through it
const KEY_ICON = 'path://M0 4.5L20 4.5L20 7.5L0 7.5Z M15.6 6A5.6 5.6 0 1 1 4.4 6A5.6 5.6 0 1 1 15.6 6Z M14 6A4 4 0 1 0 6 6A4 4 0 1 0 14 6Z';
const legendNames = ['Train','TWS_OBS','TWS_PROJ','Validation'];

const option = {
  animation:false,
  backgroundColor:'#fff',
  textStyle:{fontFamily:FONT},
  legend:{
    left:'center', top:988, itemWidth:20, itemHeight:12, itemGap:14, selectedMode:false,
    textStyle:{fontSize:16, color:'#222', fontFamily:FONT},
    data: legendNames.map(n => ({name:n, icon:KEY_ICON, itemStyle:{color:COLORS[n], borderWidth:0, opacity:1}}))
  },
  grid:grids, xAxis:xAxes, yAxis:yAxes, series:series
};

const chart = echarts.init(document.getElementById('chart'), null, {renderer:'canvas'});
chart.setOption(option);
</script>
</body>
</html>
